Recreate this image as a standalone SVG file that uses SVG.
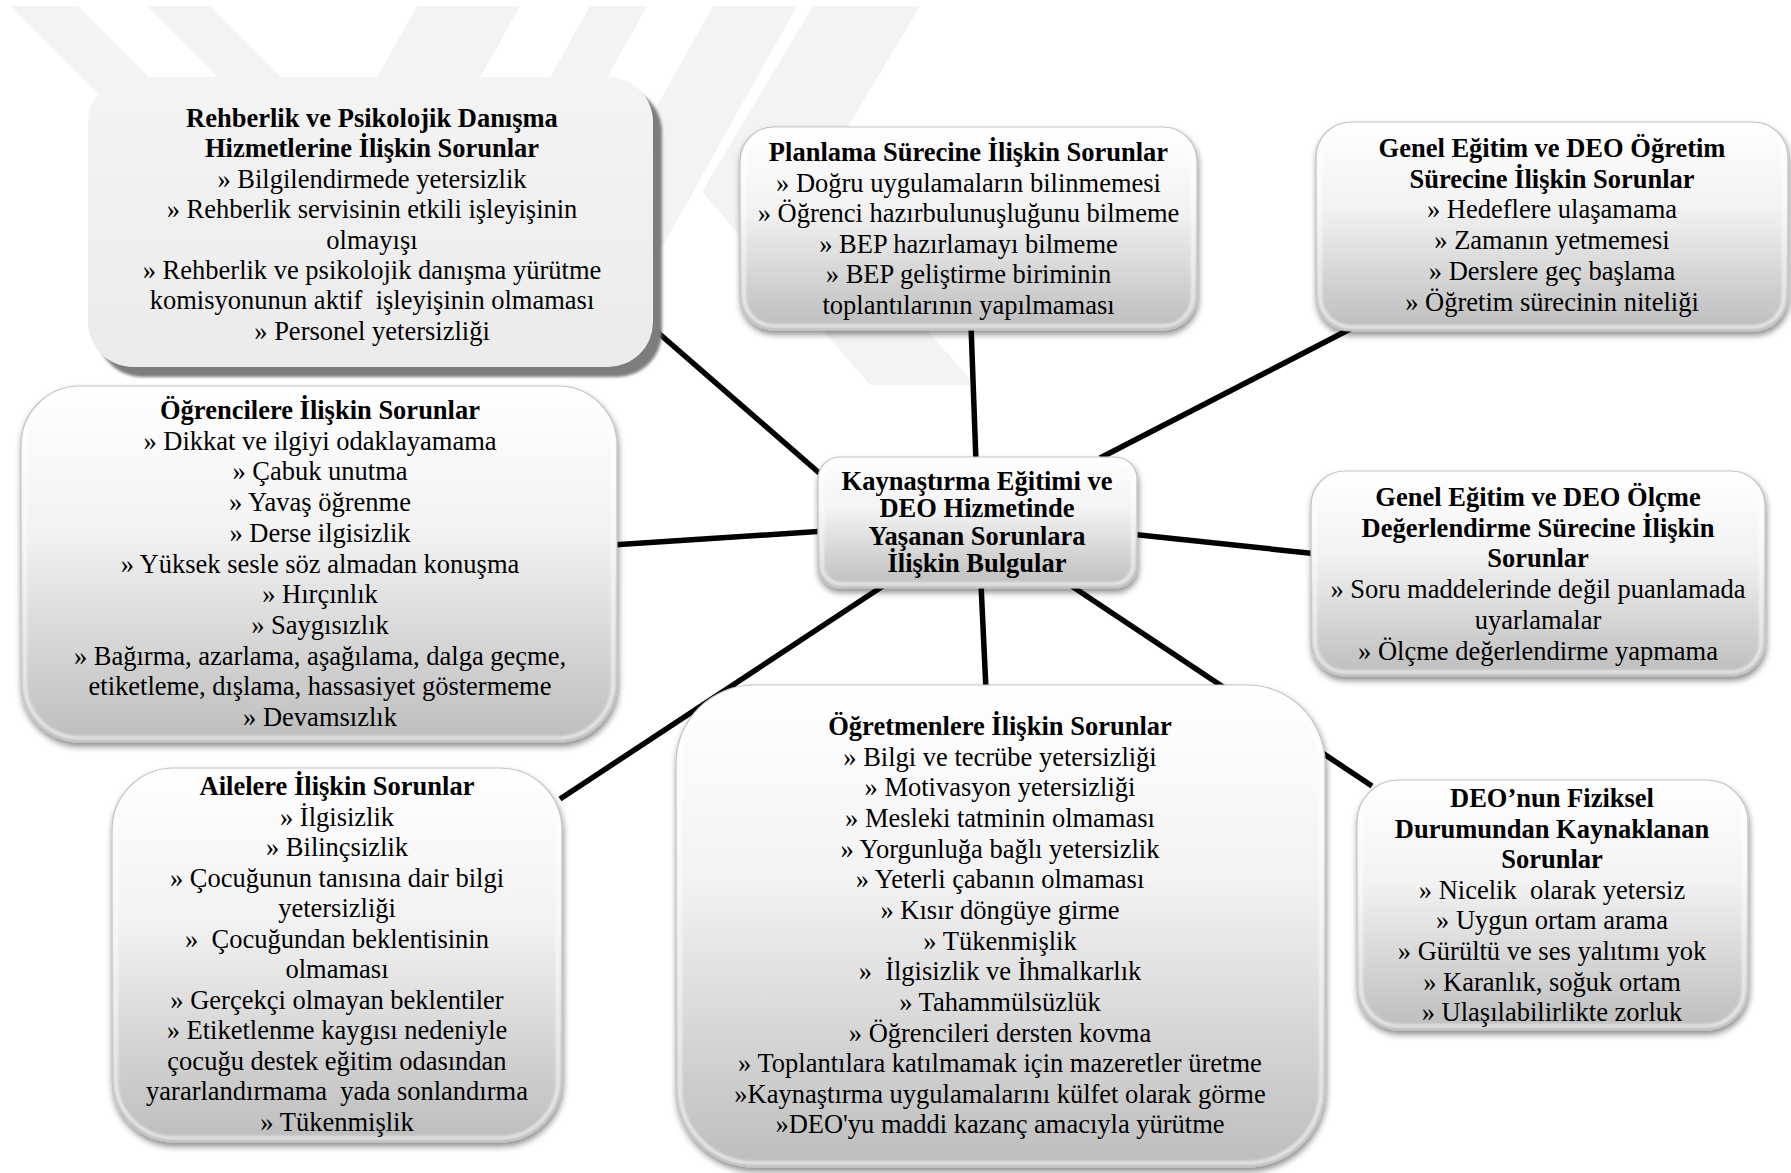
<svg xmlns="http://www.w3.org/2000/svg" width="1791" height="1173" viewBox="0 0 1791 1173" xml:space="preserve">
<style>
.t{font-family:"Liberation Serif","Times New Roman",serif;font-size:26.5px;text-anchor:middle;fill:#000;white-space:pre}
.b{font-weight:bold}
.box{fill:url(#gb);stroke:#bfbfbf;stroke-width:1.2}
.rim{fill:none;stroke:#ffffff;stroke-width:3;opacity:0.75}
.wm{fill:#f3f3f3}
.cn{stroke:#000;stroke-width:5.5;fill:none}
</style>
<defs>
<linearGradient id="gb" x1="0" y1="0" x2="0" y2="1">
<stop offset="0" stop-color="#ffffff"/>
<stop offset="0.4" stop-color="#f3f3f3"/>
<stop offset="1" stop-color="#bdbdbd"/>
</linearGradient>
<linearGradient id="gf" x1="0" y1="0" x2="0" y2="1">
<stop offset="0" stop-color="#f4f4f4"/>
<stop offset="1" stop-color="#ebebeb"/>
</linearGradient>
<filter id="sh" x="-10%" y="-10%" width="125%" height="130%">
<feDropShadow dx="1" dy="4" stdDeviation="3" flood-color="#000" flood-opacity="0.45"/>
</filter>
<filter id="bl" x="-5%" y="-5%" width="110%" height="110%">
<feGaussianBlur stdDeviation="1.5"/>
</filter>
</defs>
<rect width="1791" height="1173" fill="#ffffff"/>
<g id="watermark">
<polygon class="wm" points="10,6 78,6 432,360 364,360"/>
<polygon class="wm" points="147,6 210,6 564,360 501,360"/>
<polygon class="wm" points="417,6 520,6 322,360 219,360"/>
<polygon class="wm" points="590,6 647,6 449,360 392,360"/>
<polygon class="wm" points="713,6 797,6 599,360 515,360"/>
<polygon class="wm" points="813,6 920,6 808,193 975,385 870,385 702,192"/>
</g>
<g id="connectors">
<line class="cn" x1="655" y1="330" x2="825" y2="478"/>
<line class="cn" x1="971" y1="325" x2="976" y2="462"/>
<line class="cn" x1="1100" y1="458" x2="1358" y2="325"/>
<line class="cn" x1="612" y1="545" x2="825" y2="531"/>
<line class="cn" x1="1130" y1="534" x2="1318" y2="554"/>
<line class="cn" x1="886" y1="584" x2="560" y2="799"/>
<line class="cn" x1="981" y1="584" x2="986" y2="690"/>
<line class="cn" x1="1070" y1="585" x2="1372" y2="786"/>
</g>
<g id="n-rehberlik">
<rect x="97" y="87" width="565" height="290" rx="45" fill="#7d7d7d" filter="url(#bl)"/>
<rect x="88" y="77" width="565" height="290" rx="45" fill="url(#gf)"/>
<text class="t b" x="372" y="127">Rehberlik ve Psikolojik Danışma</text>
<text class="t b" x="372" y="157.4">Hizmetlerine İlişkin Sorunlar</text>
<text class="t" x="372" y="187.8">» Bilgilendirmede yetersizlik</text>
<text class="t" x="372" y="218.2">» Rehberlik servisinin etkili işleyişinin</text>
<text class="t" x="372" y="248.6">olmayışı</text>
<text class="t" x="372" y="279">» Rehberlik ve psikolojik danışma yürütme</text>
<text class="t" x="372" y="309.4">komisyonunun aktif  işleyişinin olmaması</text>
<text class="t" x="372" y="339.8">» Personel yetersizliği</text>
</g>
<g id="n-planlama">
<rect class="box" x="740" y="127" width="457" height="203" rx="34" filter="url(#sh)"/>
<rect class="rim" x="744" y="131" width="449" height="195" rx="30" filter="url(#bl)"/>
<text class="t b" x="968.5" y="161">Planlama Sürecine İlişkin Sorunlar</text>
<text class="t" x="968.5" y="191.5">» Doğru uygulamaların bilinmemesi</text>
<text class="t" x="968.5" y="222">» Öğrenci hazırbulunuşluğunu bilmeme</text>
<text class="t" x="968.5" y="252.5">» BEP hazırlamayı bilmeme</text>
<text class="t" x="968.5" y="283">» BEP geliştirme biriminin</text>
<text class="t" x="968.5" y="313.5">toplantılarının yapılmaması</text>
</g>
<g id="n-ogretim">
<rect class="box" x="1316" y="122" width="472" height="209" rx="35" filter="url(#sh)"/>
<rect class="rim" x="1320" y="126" width="464" height="201" rx="31" filter="url(#bl)"/>
<text class="t b" x="1552" y="157">Genel Eğitim ve DEO Öğretim</text>
<text class="t b" x="1552" y="187.7">Sürecine İlişkin Sorunlar</text>
<text class="t" x="1552" y="218.4">» Hedeflere ulaşamama</text>
<text class="t" x="1552" y="249.1">» Zamanın yetmemesi</text>
<text class="t" x="1552" y="279.8">» Derslere geç başlama</text>
<text class="t" x="1552" y="310.5">» Öğretim sürecinin niteliği</text>
</g>
<g id="n-center">
<rect class="box" x="818" y="457" width="319" height="131" rx="22" filter="url(#sh)"/>
<rect class="rim" x="822" y="461" width="311" height="123" rx="19" filter="url(#bl)"/>
<text class="t b" x="977" y="490">Kaynaştırma Eğitimi ve</text>
<text class="t b" x="977" y="517">DEO Hizmetinde</text>
<text class="t b" x="977" y="545">Yaşanan Sorunlara</text>
<text class="t b" x="977" y="572">İlişkin Bulgular</text>
</g>
<g id="n-olcme">
<rect class="box" x="1311" y="471" width="454" height="205" rx="34" filter="url(#sh)"/>
<rect class="rim" x="1315" y="475" width="446" height="197" rx="30" filter="url(#bl)"/>
<text class="t b" x="1538" y="506">Genel Eğitim ve DEO Ölçme</text>
<text class="t b" x="1538" y="536.7">Değerlendirme Sürecine İlişkin</text>
<text class="t b" x="1538" y="567.4">Sorunlar</text>
<text class="t" x="1538" y="598.1">» Soru maddelerinde değil puanlamada</text>
<text class="t" x="1538" y="628.8">uyarlamalar</text>
<text class="t" x="1538" y="659.5">» Ölçme değerlendirme yapmama</text>
</g>
<g id="n-ogrenciler">
<rect class="box" x="21" y="386" width="596" height="356" rx="59" filter="url(#sh)"/>
<rect class="rim" x="25" y="390" width="588" height="348" rx="55" filter="url(#bl)"/>
<text class="t b" x="320" y="419">Öğrencilere İlişkin Sorunlar</text>
<text class="t" x="320" y="449.7">» Dikkat ve ilgiyi odaklayamama</text>
<text class="t" x="320" y="480.4">» Çabuk unutma</text>
<text class="t" x="320" y="511.1">» Yavaş öğrenme</text>
<text class="t" x="320" y="541.8">» Derse ilgisizlik</text>
<text class="t" x="320" y="572.5">» Yüksek sesle söz almadan konuşma</text>
<text class="t" x="320" y="603.2">» Hırçınlık</text>
<text class="t" x="320" y="633.9">» Saygısızlık</text>
<text class="t" x="320" y="664.6">» Bağırma, azarlama, aşağılama, dalga geçme,</text>
<text class="t" x="320" y="695.3">etiketleme, dışlama, hassasiyet göstermeme</text>
<text class="t" x="320" y="726">» Devamsızlık</text>
</g>
<g id="n-aileler">
<rect class="box" x="112" y="768" width="450" height="374" rx="62" filter="url(#sh)"/>
<rect class="rim" x="116" y="772" width="442" height="366" rx="58" filter="url(#bl)"/>
<text class="t b" x="337" y="795">Ailelere İlişkin Sorunlar</text>
<text class="t" x="337" y="825.5">» İlgisizlik</text>
<text class="t" x="337" y="856">» Bilinçsizlik</text>
<text class="t" x="337" y="886.5">» Çocuğunun tanısına dair bilgi</text>
<text class="t" x="337" y="917">yetersizliği</text>
<text class="t" x="337" y="947.5">»  Çocuğundan beklentisinin</text>
<text class="t" x="337" y="978">olmaması</text>
<text class="t" x="337" y="1008.5">» Gerçekçi olmayan beklentiler</text>
<text class="t" x="337" y="1039">» Etiketlenme kaygısı nedeniyle</text>
<text class="t" x="337" y="1069.5">çocuğu destek eğitim odasından</text>
<text class="t" x="337" y="1100">yararlandırmama  yada sonlandırma</text>
<text class="t" x="337" y="1130.5">» Tükenmişlik</text>
</g>
<g id="n-ogretmenler">
<rect class="box" x="676" y="685" width="649" height="482" rx="78" filter="url(#sh)"/>
<rect class="rim" x="680" y="689" width="641" height="474" rx="74" filter="url(#bl)"/>
<text class="t b" x="1000" y="735">Öğretmenlere İlişkin Sorunlar</text>
<text class="t" x="1000" y="765.65">» Bilgi ve tecrübe yetersizliği</text>
<text class="t" x="1000" y="796.3">» Motivasyon yetersizliği</text>
<text class="t" x="1000" y="826.95">» Mesleki tatminin olmaması</text>
<text class="t" x="1000" y="857.6">» Yorgunluğa bağlı yetersizlik</text>
<text class="t" x="1000" y="888.25">» Yeterli çabanın olmaması</text>
<text class="t" x="1000" y="918.9">» Kısır döngüye girme</text>
<text class="t" x="1000" y="949.55">» Tükenmişlik</text>
<text class="t" x="1000" y="980.2">»  İlgisizlik ve İhmalkarlık</text>
<text class="t" x="1000" y="1010.85">» Tahammülsüzlük</text>
<text class="t" x="1000" y="1041.5">» Öğrencileri dersten kovma</text>
<text class="t" x="1000" y="1072.15">» Toplantılara katılmamak için mazeretler üretme</text>
<text class="t" x="1000" y="1102.8">»Kaynaştırma uygulamalarını külfet olarak görme</text>
<text class="t" x="1000" y="1133.45">»DEO'yu maddi kazanç amacıyla yürütme</text>
</g>
<g id="n-fiziksel">
<rect class="box" x="1357" y="780" width="391" height="250" rx="42" filter="url(#sh)"/>
<rect class="rim" x="1361" y="784" width="383" height="242" rx="38" filter="url(#bl)"/>
<text class="t b" x="1552" y="807">DEO’nun Fiziksel</text>
<text class="t b" x="1552" y="837.6">Durumundan Kaynaklanan</text>
<text class="t b" x="1552" y="868.2">Sorunlar</text>
<text class="t" x="1552" y="898.8">» Nicelik  olarak yetersiz</text>
<text class="t" x="1552" y="929.4">» Uygun ortam arama</text>
<text class="t" x="1552" y="960">» Gürültü ve ses yalıtımı yok</text>
<text class="t" x="1552" y="990.6">» Karanlık, soğuk ortam</text>
<text class="t" x="1552" y="1021.2">» Ulaşılabilirlikte zorluk</text>
</g>
</svg>
